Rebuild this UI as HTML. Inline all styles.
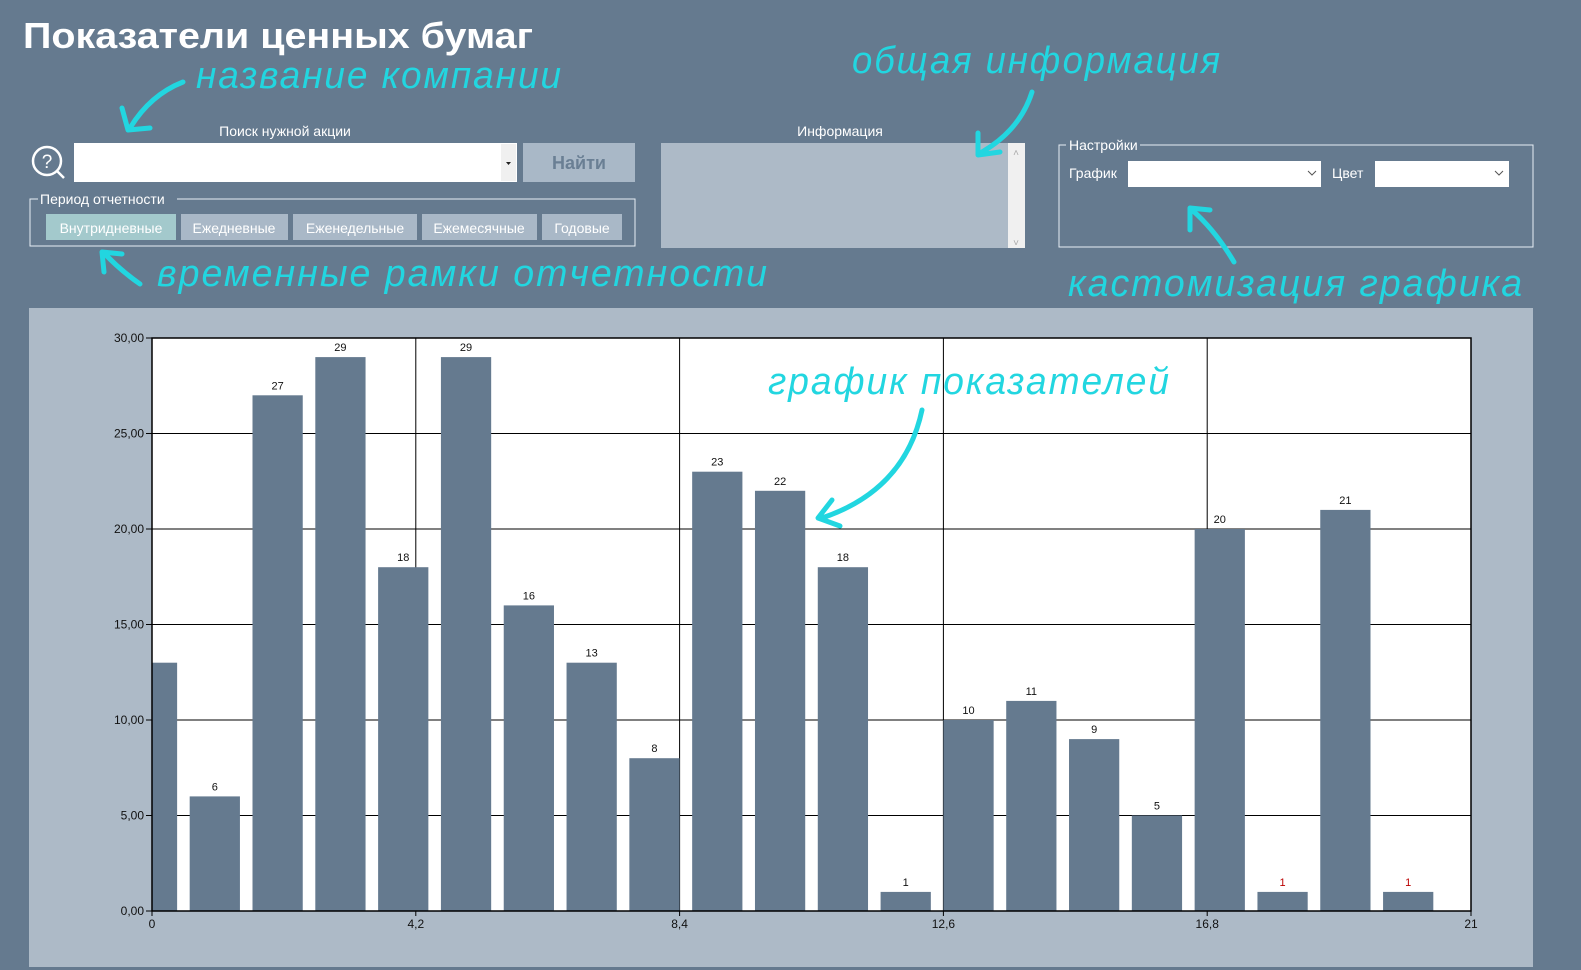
<!DOCTYPE html>
<html><head><meta charset="utf-8"><style>
html,body{margin:0;padding:0;background:#657a8f;}
svg{display:block;font-family:"Liberation Sans","DejaVu Sans",sans-serif;}
.ann{fill:#22d6e0;font-style:italic;font-size:38px;letter-spacing:2px;}
.arr{stroke:#22d6e0;stroke-width:5;fill:none;stroke-linecap:round;stroke-linejoin:round;}
.lbl{fill:#fff;font-size:14px;}
.btn{fill:#a9b8c7;}
.btxt{fill:#fff;font-size:14px;text-anchor:middle;}
</style></head><body>
<svg id="root" width="1581" height="970" viewBox="0 0 1581 970" xmlns="http://www.w3.org/2000/svg">
<rect width="1581" height="970" fill="#657a8f"/>
<text x="23" y="48" fill="#fff" font-size="36" font-weight="bold" textLength="510" lengthAdjust="spacingAndGlyphs">Показатели ценных бумаг</text>

<!-- search -->
<text class="lbl" x="285" y="136" font-size="13" text-anchor="middle">Поиск нужной акции</text>
<g>
<circle cx="47" cy="161" r="14" fill="none" stroke="#fff" stroke-width="2.5"/>
<line x1="57" y1="171" x2="64" y2="178" stroke="#fff" stroke-width="2.5"/>
<text x="47" y="168" fill="#fff" font-size="19" text-anchor="middle">?</text>
</g>
<g>
<rect x="74" y="143" width="443" height="39" fill="#fff"/>
<rect x="501" y="144" width="15" height="37" fill="#f0f0f0"/>
<path d="M506 162 L511 162 L508.5 165Z" fill="#222"/>
</g>
<g>
<rect x="523" y="143" width="112" height="39" class="btn"/>
<text x="579" y="169" fill="#6a7f94" font-size="18" font-weight="bold" text-anchor="middle">Найти</text>
</g>

<!-- period group -->
<g>
<path d="M38 199 L30 199 L30 246 L635 246 L635 199 L177 199" fill="none" stroke="#e8eef4" stroke-width="1"/>
<text class="lbl" x="40" y="204">Период отчетности</text>
</g>
<g><rect x="46" y="214" width="130" height="26" fill="#a3c9cc"/><text class="btxt" x="111" y="233">Внутридневные</text></g>
<g><rect x="181" y="214" width="107" height="26" class="btn"/><text class="btxt" x="234" y="233">Ежедневные</text></g>
<g><rect x="293" y="214" width="124" height="26" class="btn"/><text class="btxt" x="355" y="233">Еженедельные</text></g>
<g><rect x="422" y="214" width="115" height="26" class="btn"/><text class="btxt" x="479" y="233">Ежемесячные</text></g>
<g><rect x="542" y="214" width="80" height="26" class="btn"/><text class="btxt" x="582" y="233">Годовые</text></g>

<!-- info -->
<text class="lbl" x="840" y="136" font-size="13" text-anchor="middle">Информация</text>
<g>
<rect x="661" y="143" width="364" height="105" fill="#adbac7"/>
<rect x="1008" y="143" width="17" height="105" fill="#f0f0f0"/>
<text x="1016" y="156" fill="#aaa" font-size="10" text-anchor="middle">˄</text>
<text x="1016" y="246" fill="#aaa" font-size="10" text-anchor="middle">˅</text>
</g>

<!-- settings -->
<g>
<path d="M1066 145 L1059 145 L1059 247 L1533 247 L1533 145 L1140 145" fill="none" stroke="#e8eef4" stroke-width="1"/>
<text class="lbl" x="1069" y="150">Настройки</text>
</g>
<text class="lbl" x="1069" y="178">График</text>
<g><rect x="1128" y="161" width="193" height="26" fill="#fff"/><path d="M1308 171 L1312 175 L1316 171" stroke="#555" fill="none"/></g>
<text class="lbl" x="1332" y="178">Цвет</text>
<g><rect x="1375" y="161" width="134" height="26" fill="#fff"/><path d="M1495 171 L1499 175 L1503 171" stroke="#555" fill="none"/></g>

<!-- chart panel -->
<rect x="29" y="308" width="1504" height="659" fill="#adbac7"/>
<g id="chart"></g>

<!-- annotations (on top) -->
<text class="ann" x="196" y="88" textLength="367" lengthAdjust="spacingAndGlyphs">название компании</text>
<path class="arr" d="M183 82 Q150 95 130 128 M122 108 L128 130 L150 128"/>
<text class="ann" x="852" y="73" textLength="370" lengthAdjust="spacingAndGlyphs">общая информация</text>
<path class="arr" d="M1032 92 Q1020 130 982 152 M978 133 L978 155 L1000 152"/>
<text class="ann" x="157" y="286" textLength="612" lengthAdjust="spacingAndGlyphs">временные рамки отчетности</text>
<path class="arr" d="M140 284 Q120 270 104 253 M104 272 L102 252 L122 254"/>
<text class="ann" x="1068" y="296" textLength="456" lengthAdjust="spacingAndGlyphs">кастомизация графика</text>
<path class="arr" d="M1234 262 Q1215 230 1192 210 M1190 230 L1190 208 L1210 210"/>
<text class="ann" x="768" y="394" textLength="403" lengthAdjust="spacingAndGlyphs">график показателей</text>
<path class="arr" d="M922 410 Q905 490 822 518 M832 500 L818 518 L840 526"/>
</svg>
<script>
const values = [13,6,27,29,18,29,16,13,8,23,22,18,1,10,11,9,5,20,1,21,1];
const yTicks = [0,5,10,15,20,25,30];
const yTickLabels = ["0,00","5,00","10,00","15,00","20,00","25,00","30,00"];
const xTicks = [0,4.2,8.4,12.6,16.8,21];
const xTickLabels = ["0","4,2","8,4","12,6","16,8","21"];
const redLabels = [18,20];

const NS="http://www.w3.org/2000/svg";
const L=152,R=1471,T=338,B=911,XMAX=21,YMAX=30;
const xs=v=>L+(v/XMAX)*(R-L);
const ys=v=>B-(v/YMAX)*(B-T);
const g=document.getElementById('chart');
function mk(tag,attrs,parent){const e=document.createElementNS(NS,tag);for(const k in attrs)e.setAttribute(k,attrs[k]);(parent||g).appendChild(e);return e;}

const bg=mk('rect',{x:L,y:T,width:R-L,height:B-T,fill:'#fff'});


yTicks.forEach((t,i)=>{
  const ln=mk('line',{x1:L-6,x2:R,y1:ys(t),y2:ys(t),stroke:'#000','stroke-width':1});
  
  
  const tx=mk('text',{x:L-8,y:ys(t)+4,'font-size':12,'text-anchor':'end',fill:'#111'});
  tx.textContent=yTickLabels[i];
  
  
});
xTicks.forEach((t,i)=>{
  const ln=mk('line',{x1:xs(t),x2:xs(t),y1:T,y2:B+5,stroke:'#000','stroke-width':1});
  
  
  const tx=mk('text',{x:xs(t),y:B+17,'font-size':12,'text-anchor':'middle',fill:'#111'});
  tx.textContent=xTickLabels[i];
  
  
});
values.forEach((v,i)=>{
  const x0=Math.max(0,i-0.4), x1=Math.min(XMAX,i+0.4);
  const r=mk('rect',{x:xs(x0),y:ys(v),width:xs(x1)-xs(x0),height:B-ys(v),fill:'#657a8f'});
  
  
  if(i>0){
    const tx=mk('text',{x:xs(i),y:ys(v)-6,'font-size':11,'text-anchor':'middle',fill:redLabels.includes(i)?'#b00':'#111'});
    tx.textContent=String(v);
    
    
  }
});
const fr=mk('rect',{x:L,y:T,width:R-L,height:B-T,fill:'none',stroke:'#000','stroke-width':1.5});


</script>
</body></html>
